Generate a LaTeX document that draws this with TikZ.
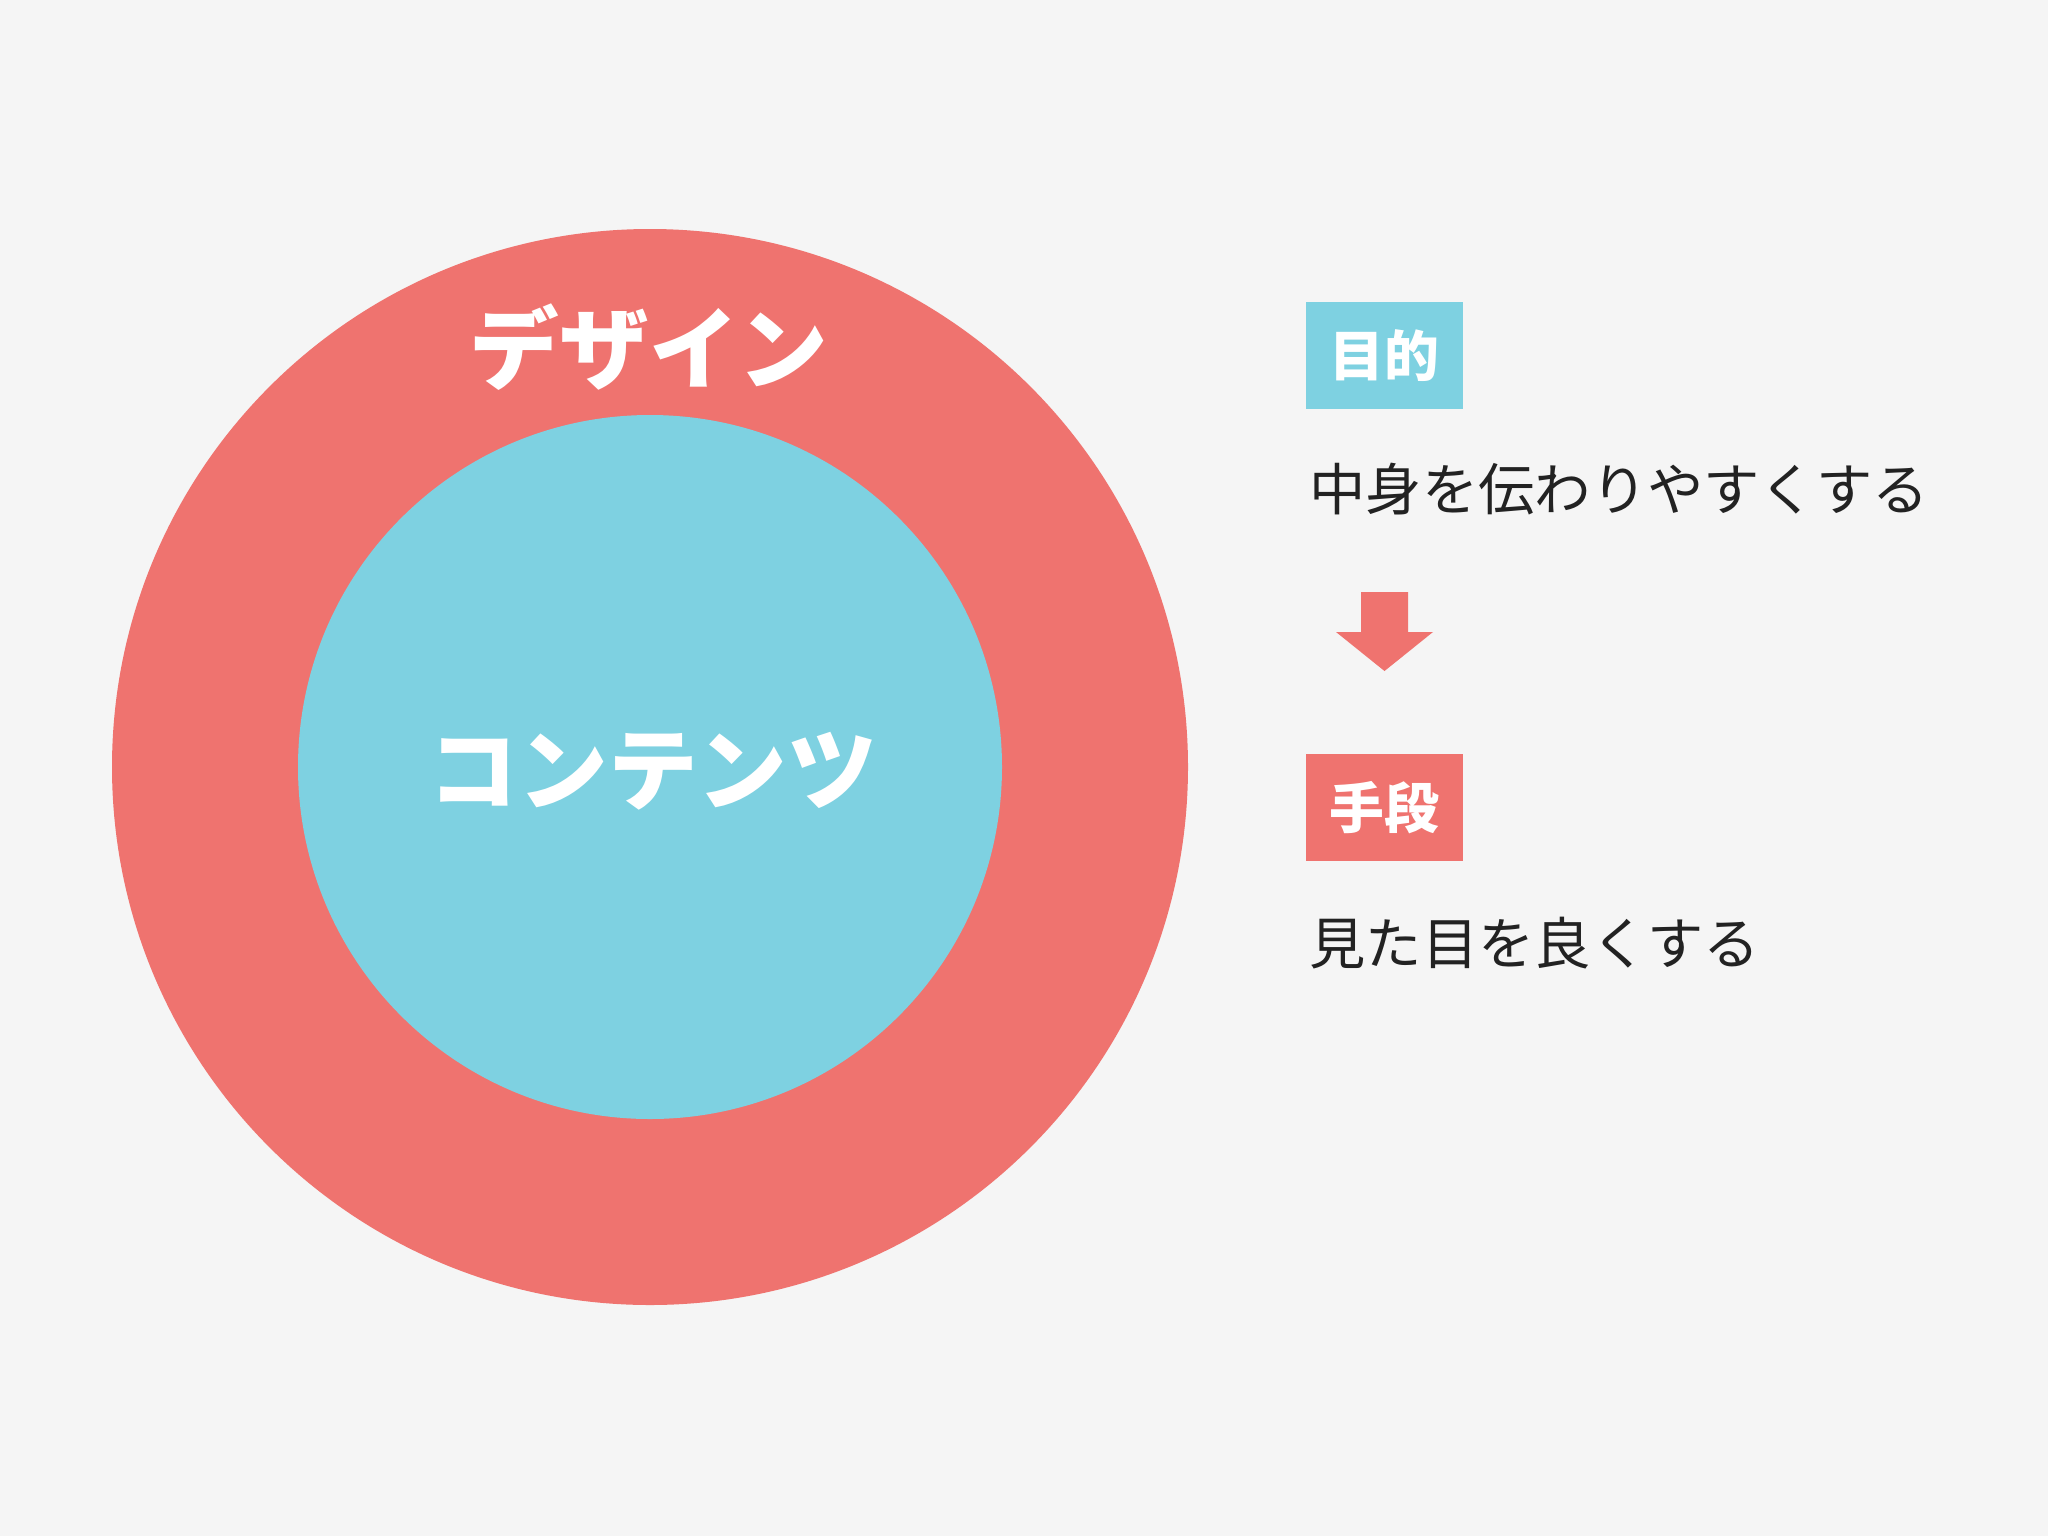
\documentclass[tikz,border=0pt]{standalone}
\usepackage{fontspec}
\setmainfont{Noto Sans CJK JP}
\usepackage{xcolor}
\definecolor{paper}{HTML}{F5F5F5}
\definecolor{salmon}{HTML}{EF736F}
\definecolor{sky}{HTML}{7ED1E1}
\definecolor{ink}{HTML}{222222}

\begin{document}
\begin{tikzpicture}[x=0.01cm, y=-0.01cm,
  ringtext/.style={text=white, font=\bfseries\fontsize{25.5pt}{25.5pt}\selectfont, inner sep=0},
  tagbox/.style={text=white, font=\bfseries\fontsize{15.6pt}{15.6pt}\selectfont, minimum width=1.57cm, minimum height=1.07cm, inner sep=0},
  plain/.style={text=ink, font=\fontsize{16pt}{16pt}\selectfont, inner sep=0, anchor=west}]
\fill[paper] (0,0) rectangle (2048,1536);
% the two rings
\fill[salmon] (650,767) circle (538);
\fill[sky] (650,767) circle (352);
\node[ringtext] (design) at (649,347) {デザイン};
\node[ringtext] (contents) at (653,771) {コンテンツ};
% right column
\node[tagbox, fill=sky] (goal) at (1384.5,355.5) {目的};
\node[plain] (goaltext) at (1309,489) {中身を伝わりやすくする};
\fill[salmon] (1361,592) -- (1408,592) -- (1408,632) -- (1433,632) -- (1384.5,671) -- (1336,632) -- (1361,632) -- cycle;
\node[tagbox, fill=salmon] (means) at (1384.5,807.5) {手段};
\node[plain] (meanstext) at (1309,943) {見た目を良くする};
\end{tikzpicture}
\end{document}
